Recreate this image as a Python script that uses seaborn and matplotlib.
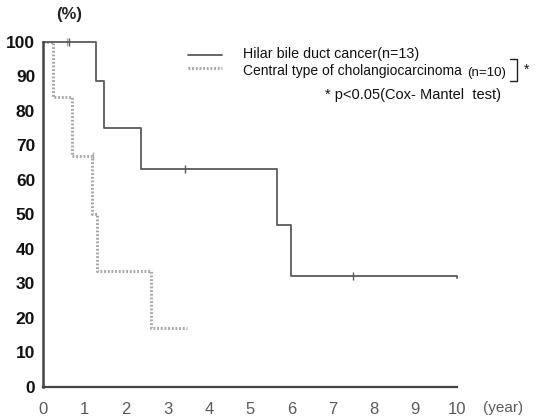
import matplotlib
matplotlib.use("Agg")
import matplotlib.pyplot as plt
import seaborn as sns
import pandas as pd

# Data (years, survival %)
hilar_t = [0, 1.28, 1.46, 2.36, 5.66, 6.0, 10.0]
hilar_s = [100, 88.5, 75, 63, 47, 32, 31.5]
hilar_cens_t = [0.62, 3.42, 7.5]
hilar_cens_s = [100, 63, 32]

central_t = [0, 0.24, 0.68, 1.18, 1.29, 2.6, 3.48]
central_s = [100, 84, 67, 50, 33.5, 17, 17]
central_cens_t = [0.58, 1.2]
central_cens_s = [100, 67]

x_ticks = list(range(0, 11))
y_ticks = list(range(0, 101, 10))

sns.set_theme(style="white")
plt.rcParams['font.family'] = ['Liberation Sans', 'DejaVu Sans']

fig = plt.figure(figsize=(5.37, 4.19), dpi=100)
ax = fig.add_axes([0.081, 0.0764, 0.7695, 0.8241])

df_h = pd.DataFrame({"t": hilar_t, "s": hilar_s})
df_c = pd.DataFrame({"t": central_t, "s": central_s})

sns.lineplot(data=df_c, x="t", y="s", drawstyle="steps-post", estimator=None,
             color="#a8a8a8", lw=2.2, ls=(0, (0.6, 0.6)), ax=ax, clip_on=False)
sns.lineplot(data=df_h, x="t", y="s", drawstyle="steps-post", estimator=None,
             color="#5a5a5a", lw=1.3, ax=ax, clip_on=False)
sns.scatterplot(x=hilar_cens_t, y=hilar_cens_s, marker="|", s=30, color="#5a5a5a",
                linewidth=1.0, ax=ax, clip_on=False)
sns.scatterplot(x=central_cens_t, y=central_cens_s, marker="|", s=30, color="#a8a8a8",
                linewidth=1.0, ax=ax, clip_on=False)

ax.set_xlim(0, 10)
ax.set_ylim(0, 100)
ax.set_xticks(x_ticks)
ax.set_yticks(y_ticks)
ax.set_xticklabels([str(v) for v in x_ticks], fontsize=12, color="#5a5a5a")
ax.set_yticklabels([str(v) for v in y_ticks], fontsize=12.5, fontweight="bold", color="#111111")
ax.set_xlabel("")
ax.set_ylabel("")
for side in ["top", "right"]:
    ax.spines[side].set_visible(False)
ax.spines["left"].set_color("#444444")
ax.spines["bottom"].set_color("#444444")
ax.spines["left"].set_linewidth(1.8)
ax.spines["bottom"].set_linewidth(1.6)
ax.tick_params(axis="y", direction="out", length=4, width=1.2, color="#444444", pad=2)
ax.tick_params(axis="x", direction="in", length=4, width=1.0, color="#444444", pad=11)

fig.text(69 / 537, 1 - 15 / 419, "(%)", ha="center", va="center", fontsize=12, fontweight="bold", color="#222222")
fig.text(503 / 537, 1 - 408 / 419, "(year)", ha="center", va="center", fontsize=11, color="#5a5a5a")

# legend
fig.add_artist(plt.Line2D([188 / 537, 222 / 537], [1 - 55 / 419, 1 - 55 / 419], color="#5a5a5a", lw=1.3))
fig.add_artist(plt.Line2D([188 / 537, 222 / 537], [1 - 68 / 419, 1 - 68 / 419], color="#a8a8a8", lw=2.2,
                          ls=(0, (0.6, 0.6))))
fig.text(243 / 537, 1 - 54 / 419, "Hilar bile duct cancer(n=13)", ha="left", va="center", fontsize=10.3, color="#111111")
fig.text(243 / 537, 1 - 71 / 419, "Central type of cholangiocarcinoma", ha="left", va="center", fontsize=10, color="#111111")
fig.text(467 / 537, 1 - 73 / 419, "(n=10)", ha="left", va="center", fontsize=9.5, color="#111111")
fig.add_artist(plt.Line2D([510 / 537, 517 / 537, 517 / 537, 510 / 537],
                          [1 - 59 / 419, 1 - 59 / 419, 1 - 81 / 419, 1 - 81 / 419], color="#222222", lw=1.0))
fig.text(524 / 537, 1 - 70 / 419, "*", ha="left", va="center", fontsize=10, color="#111111")
fig.text(325 / 537, 1 - 95 / 419, "* p<0.05(Cox- Mantel  test)", ha="left", va="center", fontsize=10.5, color="#111111")

fig.savefig("out.png", dpi=100)
